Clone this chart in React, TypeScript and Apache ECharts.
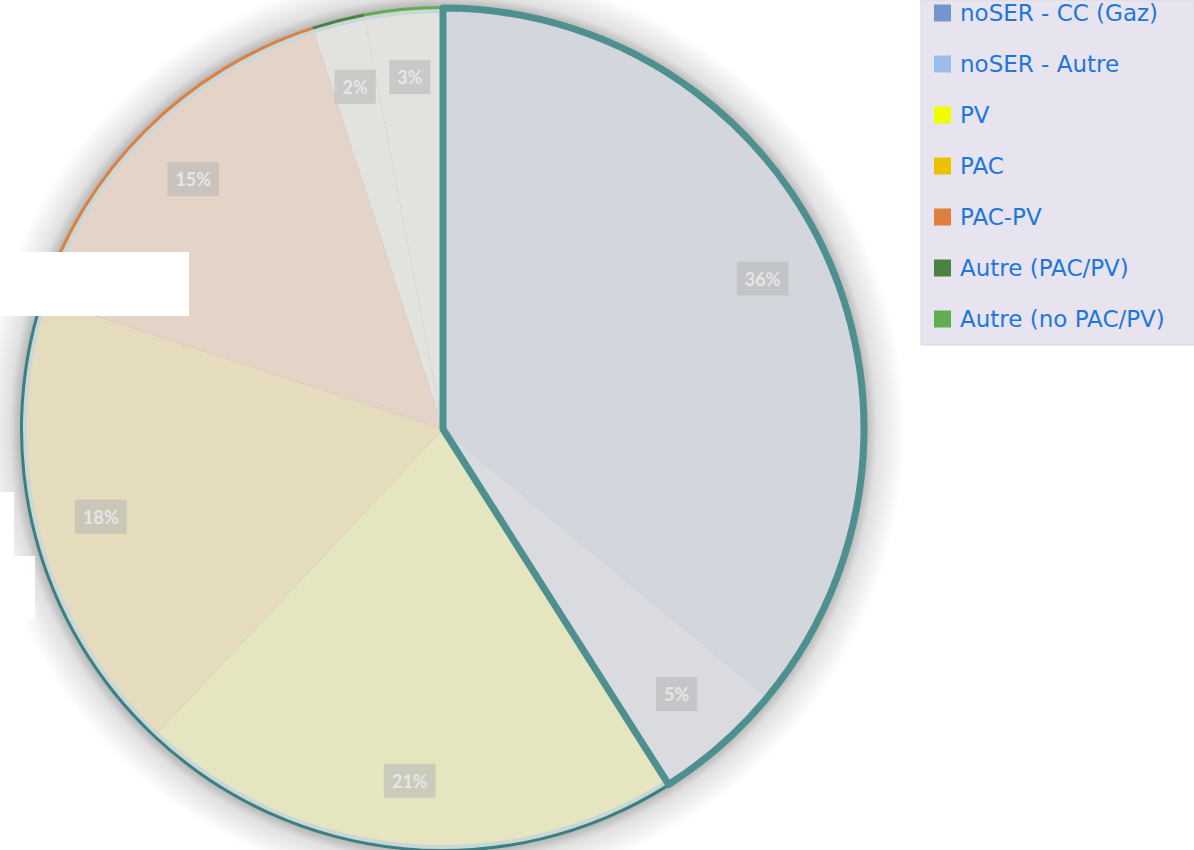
import React, { useEffect, useRef } from "react";
import * as echarts from "echarts";

const categories = [
  "noSER - CC (Gaz)",
  "noSER - Autre",
  "PV",
  "PAC",
  "PAC-PV",
  "Autre (PAC/PV)",
  "Autre (no PAC/PV)",
];
const shares = [36, 5, 21, 18, 15, 2, 3];
const legendColors = ["#7496CC", "#9CBCE9", "#EEFF00", "#EBC200", "#DF7F3D", "#4A8242", "#62AD52"];
const sliceFills = ["#D3D7DD", "#DADBE0", "#E5E6C0", "#E5DBBD", "#E4D4C7", "#E2E2DF", "#E2E2DF"];
const rimColors = ["#4E8E8E", "#4E8E8E", "#3A8080", "#3A8080", "#DF7F3D", "#4A8242", "#62AD52"];
const innerRimColors = ["transparent", "transparent", "#CAD7D9", "#CAD7D9", "#CAD7D9", "#CAD7D9", "#CAD7D9"];

export default function App() {
  const ref = useRef<HTMLDivElement>(null);
  useEffect(() => {
    document.body.style.margin = "0";
    const chart = echarts.init(ref.current!, null, { renderer: "svg" });
    const cx = 443;
    const cy = 429;
    const R = 422;
    const S = 40;
    const noSerSum = shares[0] + shares[1];
    const restSum = shares.slice(2).reduce((a, b) => a + b, 0);
    const common = {
      type: "pie",
      center: [cx, cy],
      startAngle: 90,
      clockwise: true,
      silent: true,
      avoidLabelOverlap: false,
      emphasis: { disabled: true },
      labelLine: { show: false },
    };
    const inner = (R - 4) / (R + S);
    chart.setOption({
      animation: false,
      backgroundColor: "#ffffff",
      legend: {
        orient: "vertical",
        left: 934,
        top: 1,
        padding: 0,
        itemWidth: 17,
        itemHeight: 17,
        itemGap: 27,
        icon: "rect",
        selectedMode: false,
        textStyle: {
          fontFamily: "DejaVu Sans",
          fontSize: 23,
          lineHeight: 24,
          color: "#1F77DA",
          padding: [0, 0, 0, 4],
        },
        data: categories.map((c, i) => ({ name: c, itemStyle: { color: legendColors[i] } })),
      },
      graphic: [
        {
          type: "rect",
          z: -10,
          shape: { x: 921, y: 0, width: 273, height: 345 },
          style: { fill: "#E7E4EF", stroke: "#D8D5E0", lineWidth: 1 },
        },
        {
          type: "circle",
          z: -5,
          shape: { cx, cy, r: R + S },
          style: {
            fill: new echarts.graphic.RadialGradient(0.5, 0.5, 0.5, [
              { offset: 0, color: "rgba(0,0,0,0.35)" },
              { offset: inner, color: "rgba(0,0,0,0.35)" },
              { offset: inner + (1 - inner) * 0.35, color: "rgba(0,0,0,0.12)" },
              { offset: 1, color: "rgba(0,0,0,0)" },
            ]),
          },
        },
        { type: "rect", z: 100, shape: { x: 0, y: 252, width: 189, height: 64 }, style: { fill: "#ffffff" } },
        { type: "rect", z: 100, shape: { x: 0, y: 492, width: 14, height: 64 }, style: { fill: "#ffffff" } },
        { type: "rect", z: 100, shape: { x: 0, y: 556, width: 35, height: 64 }, style: { fill: "#ffffff" } },
      ],
      series: [
        {
          ...common,
          name: "base",
          radius: R,
          z: 2,
          label: { show: false },
          data: categories.map((c, i) => ({ name: c, value: shares[i], itemStyle: { color: sliceFills[i] } })),
        },
        {
          ...common,
          name: "innerRim",
          radius: [R - 6, R - 1],
          z: 3,
          label: { show: false },
          data: categories.map((c, i) => ({ name: c, value: shares[i], itemStyle: { color: innerRimColors[i] } })),
        },
        {
          ...common,
          name: "outerRim",
          radius: [R - 2, R + 1],
          z: 4,
          label: { show: false },
          data: categories.map((c, i) => ({ name: c, value: shares[i], itemStyle: { color: rimColors[i] } })),
        },
        {
          ...common,
          name: "group",
          radius: R - 1,
          z: 5,
          label: { show: false },
          data: [
            {
              name: "noSER",
              value: noSerSum,
              itemStyle: { color: "transparent", borderColor: "#4E8F8F", borderWidth: 7, borderJoin: "round" },
            },
            { name: "rest", value: restSum, itemStyle: { color: "transparent", borderWidth: 0 } },
          ],
        },
        {
          ...common,
          name: "labels",
          radius: [R * 0.66, R],
          z: 6,
          itemStyle: { color: "transparent" },
          label: {
            show: true,
            position: "inside",
            formatter: "{c}%",
            fontFamily: "Lato",
            fontWeight: "bold",
            fontSize: 18,
            lineHeight: 18,
            color: "#E6E6E6",
            backgroundColor: "rgba(180,180,180,0.55)",
            padding: [8, 8, 8, 8],
          },
          data: categories.map((c, i) => ({ name: c, value: shares[i] })),
        },
      ],
    });
    return () => chart.dispose();
  }, []);
  return <div ref={ref} style={{ width: 1194, height: 850 }} />;
}
